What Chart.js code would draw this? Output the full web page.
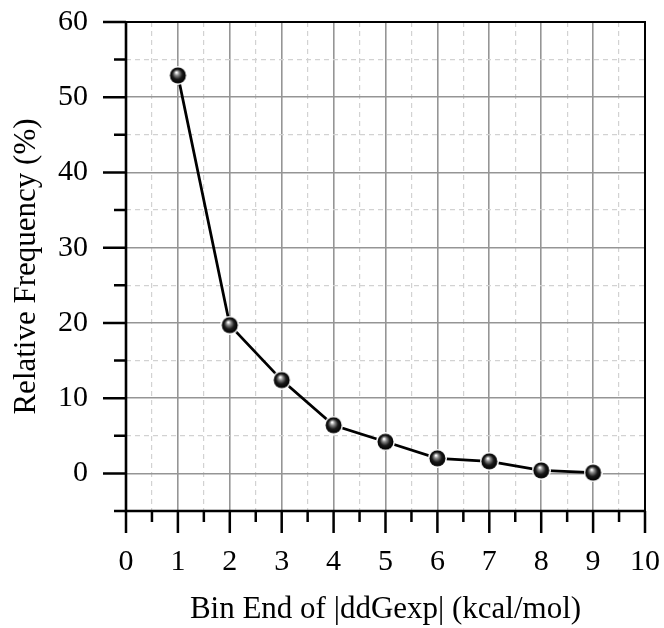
<!DOCTYPE html>
<html>
<head>
<meta charset="utf-8">
<script src="https://cdn.jsdelivr.net/npm/chart.js@4"></script>
<style>
  html, body { margin: 0; padding: 0; background: #ffffff; }
  #wrap { width: 664px; height: 628px; }
</style>
</head>
<body>
<div id="wrap"><canvas id="freq"></canvas></div>
<script>
/* Relative frequency per |ddGexp| bin (kcal/mol) */

const binEnds = [1, 2, 3, 4, 5, 6, 7, 8, 9];
const relFreq = [52.9, 19.7, 12.4, 6.4, 4.2, 2.0, 1.6, 0.4, 0.1];

const xTicks = [0, 1, 2, 3, 4, 5, 6, 7, 8, 9, 10];
const yTicks = [0, 10, 20, 30, 40, 50, 60];

const FONT = "'Liberation Serif', 'Times New Roman', serif";

// shaded black ball used as the marker
function makeBall(r, ring) {
  const size = Math.ceil((r + ring) * 2);
  const c = document.createElement('canvas');
  c.width = size;
  c.height = size;
  const g = c.getContext('2d');
  const m = size / 2;
  g.beginPath();
  g.arc(m, m, r + ring, 0, Math.PI * 2);
  g.fillStyle = '#ffffff';
  g.fill();
  const grad = g.createRadialGradient(m - 1.5, m - 3, 0.5, m, m, r);
  grad.addColorStop(0, '#ffffff');
  grad.addColorStop(0.25, '#8a8a8a');
  grad.addColorStop(0.6, '#1a1a1a');
  grad.addColorStop(1, '#000000');
  g.beginPath();
  g.arc(m, m, r, 0, Math.PI * 2);
  g.fillStyle = grad;
  g.fill();
  return c;
}

const isMajor = (v, step) => Math.abs(v / step - Math.round(v / step)) < 1e-6;

// outward ticks and the frame around the plot
const frameTicks = {
  id: 'frameTicks',
  afterDraw(chart) {
    const { ctx, chartArea: a, scales: { x, y } } = chart;
    ctx.save();
    ctx.strokeStyle = '#000000';
    ctx.lineWidth = 2.5;
    ctx.beginPath();
    for (let v = 0; v <= 10.0001; v += 0.5) {
      const px = x.getPixelForValue(v);
      const len = isMajor(v, 1) ? 22 : 11;
      ctx.moveTo(px, a.bottom);
      ctx.lineTo(px, a.bottom + len);
    }
    for (let v = -5; v <= 60.0001; v += 5) {
      const py = y.getPixelForValue(v);
      const len = isMajor(v, 10) ? 23 : 12;
      ctx.moveTo(a.left, py);
      ctx.lineTo(a.left - len, py);
    }
    ctx.stroke();

    ctx.lineWidth = 2;
    ctx.beginPath();
    ctx.moveTo(a.left, a.top);
    ctx.lineTo(a.right, a.top);
    ctx.lineTo(a.right, a.bottom);
    ctx.stroke();

    ctx.lineWidth = 2.6;
    ctx.beginPath();
    ctx.moveTo(a.left, a.top - 1);
    ctx.lineTo(a.left, a.bottom);
    ctx.lineTo(a.right + 1, a.bottom);
    ctx.stroke();
    ctx.restore();
  }
};

const gridColor = (step) => (c) => isMajor(c.tick.value, step) ? '#959595' : '#d2d2d2';
const gridWidth = (step) => (c) => isMajor(c.tick.value, step) ? 1.6 : 1.2;
const gridDash = (step) => (c) => (c.tick && !isMajor(c.tick.value, step)) ? [5, 4] : [];

new Chart(document.getElementById('freq'), {
  type: 'line',
  data: {
    datasets: [{
      data: binEnds.map((b, i) => ({ x: b, y: relFreq[i] })),
      borderColor: '#000000',
      borderWidth: 2.8,
      pointStyle: makeBall(8, 1.5),
      pointRadius: 8,
      tension: 0,
      fill: false,
    }],
  },
  plugins: [frameTicks],
  options: {
    responsive: true,
    maintainAspectRatio: false,
    animation: false,
    layout: { padding: { top: 22, right: 19, left: 0, bottom: 0 } },
    plugins: {
      legend: { display: false },
      tooltip: { enabled: false },
    },
    scales: {
      x: {
        type: 'linear',
        min: 0,
        max: 10,
        // fixed axis band; label overflow is already covered by layout padding
        afterFit: (s) => {
          s.height = 117;
          s.paddingLeft = 0;
          s.paddingRight = 0;
        },
        ticks: {
          stepSize: 0.5,
          autoSkip: false,
          maxRotation: 0,
          padding: 33,
          color: '#000000',
          font: { family: FONT, size: 30 },
          callback: (v) => xTicks.includes(v) ? String(v) : '',
        },
        grid: {
          drawTicks: false,
          color: gridColor(1),
          lineWidth: gridWidth(1),
        },
        border: { display: false, dash: gridDash(1) },
        title: {
          display: true,
          text: 'Bin End of |ddGexp| (kcal/mol)',
          color: '#000000',
          font: { family: FONT, size: 31 },
          padding: { top: 0, bottom: 0 },
        },
      },
      y: {
        min: -5,
        max: 60,
        afterFit: (s) => {
          s.width = 126;
          s.paddingTop = 0;
          s.paddingBottom = 0;
        },
        ticks: {
          stepSize: 5,
          autoSkip: false,
          padding: 38,
          color: '#000000',
          font: { family: FONT, size: 30 },
          callback: (v) => yTicks.includes(v) ? String(v) : '',
        },
        grid: {
          drawTicks: false,
          color: gridColor(10),
          lineWidth: gridWidth(10),
        },
        border: { display: false, dash: gridDash(10) },
        title: {
          display: true,
          text: 'Relative Frequency (%)',
          color: '#000000',
          font: { family: FONT, size: 31 },
          padding: { top: 8, bottom: 0 },
        },
      },
    },
  },
});
</script>
</body>
</html>
